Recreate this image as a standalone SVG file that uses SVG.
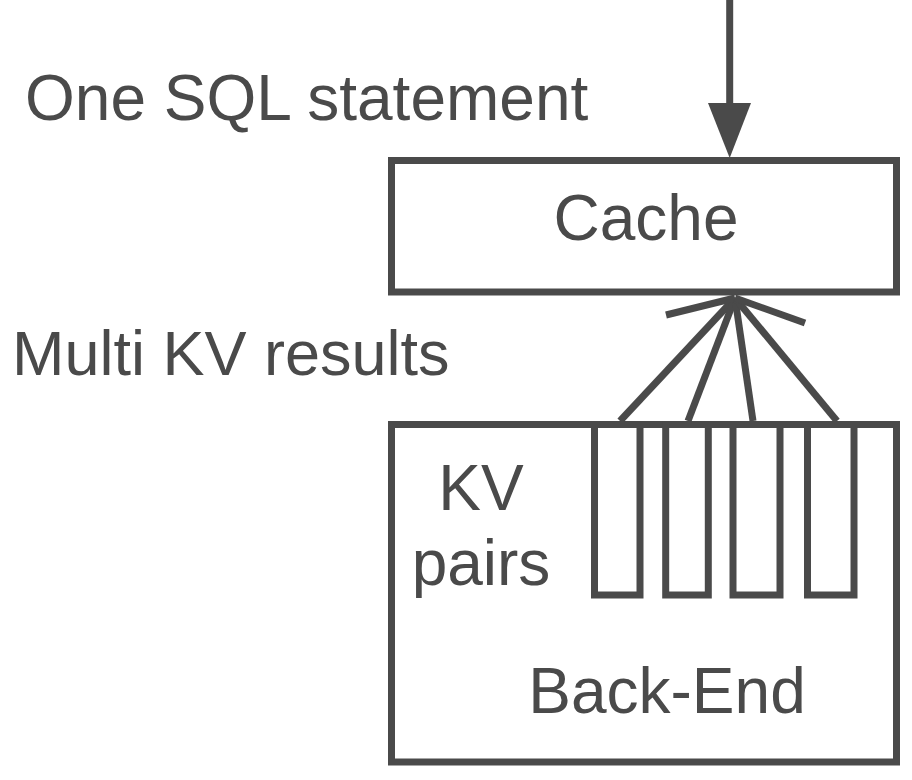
<svg xmlns="http://www.w3.org/2000/svg" width="912" height="780" viewBox="0 0 912 780">
<defs>
<style>
.box{fill:#fff;stroke:#4a4a4a;stroke-width:7}
.ln{stroke:#4a4a4a;stroke-width:7;fill:none}
.t{font-family:"Liberation Sans",Arial,sans-serif;font-size:64px;fill:#4a4a4a}
</style>
</defs>
<rect width="912" height="780" fill="#fff"/>
<g id="connectors">
<line class="ln" x1="729.7" y1="0" x2="729.7" y2="110"/>
<polygon points="708,103 751,103 729.7,158" fill="#4a4a4a"/>
<line class="ln" x1="735" y1="298" x2="620" y2="421"/>
<line class="ln" x1="735" y1="298" x2="688" y2="421"/>
<line class="ln" x1="735" y1="298" x2="753" y2="421"/>
<line class="ln" x1="735" y1="298" x2="837" y2="421"/>
<line class="ln" x1="735" y1="298" x2="666" y2="315"/>
<line class="ln" x1="735" y1="298" x2="805" y2="323"/>
</g>
<g id="cache">
<rect class="box" x="391.5" y="160.5" width="505" height="131.5"/>
<text class="t" x="646" y="240" text-anchor="middle">Cache</text>
</g>
<g id="backend">
<rect class="box" x="391.5" y="424.5" width="505" height="337.5"/>
<text class="t" x="667" y="713" text-anchor="middle">Back-End</text>
<text class="t" x="481" y="510" text-anchor="middle">KV</text>
<text class="t" x="481" y="585" text-anchor="middle">pairs</text>
</g>
<g id="kv1"><rect class="box" x="594.5" y="424.5" width="45.5" height="170.5"/></g>
<g id="kv2"><rect class="box" x="665.7" y="424.5" width="42.6" height="170.5"/></g>
<g id="kv3"><rect class="box" x="733" y="424.5" width="47" height="170.5"/></g>
<g id="kv4"><rect class="box" x="807.5" y="424.5" width="46.5" height="170.5"/></g>
<g id="labels">
<text class="t" x="25" y="120">One SQL statement</text>
<text class="t" x="12" y="375" style="font-size:63px">Multi KV results</text>
</g>
</svg>
